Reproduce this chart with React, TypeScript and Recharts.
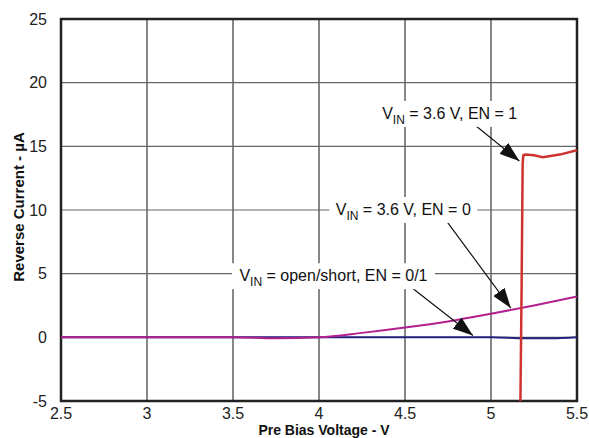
import React from 'react';
import {
  LineChart,
  Line,
  XAxis,
  YAxis,
  CartesianGrid,
  ReferenceLine,
  ReferenceDot,
  ReferenceArea,
} from 'recharts';

// axis ticks
const xTicks = [2.5, 3, 3.5, 4, 4.5, 5, 5.5];
const yTicks = [-5, 0, 5, 10, 15, 20, 25];

// VIN = open/short, EN = 0/1 (navy)
const navyX = [2.5, 3.5, 4.0, 4.5, 5.0, 5.2, 5.35, 5.5];
const navyY = [0, 0, 0, 0, 0, -0.08, -0.08, 0];

// VIN = 3.6 V, EN = 0 (magenta)
const magentaX = [2.5, 3.0, 3.5, 3.75, 4.0, 4.25, 4.5, 4.75, 5.0, 5.25, 5.5];
const magentaY = [0, 0, 0, -0.08, 0, 0.35, 0.77, 1.25, 1.85, 2.5, 3.2];

// VIN = 3.6 V, EN = 1 (red)
const redX = [5.171, 5.178, 5.184, 5.188, 5.2, 5.25, 5.3, 5.4, 5.5];
const redY = [-5, 4, 13.6, 14.3, 14.35, 14.3, 14.15, 14.35, 14.7];

const zip = (xs: number[], ys: number[]) => xs.map((x, i) => ({ x, y: ys[i] }));
const navyData = zip(navyX, navyY);
const magentaData = zip(magentaX, magentaY);
const redData = zip(redX, redY);

// annotation labels: centre (x, y) in data units, box width in px
const notes = [
  { x: 4.76, y: 17.55, w: 150, rest: ' = 3.6 V, EN = 1' },
  { x: 4.49, y: 10.0, w: 148, rest: ' = 3.6 V, EN = 0' },
  { x: 4.084, y: 4.8, w: 203, rest: ' = open/short, EN = 0/1' },
];

// arrows: tail -> tip in data units
const arrows = [
  { x1: 4.89, y1: 16.85, x2: 5.165, y2: 13.85 },
  { x1: 4.715, y1: 9.62, x2: 5.115, y2: 2.3 },
  { x1: 4.54, y1: 3.89, x2: 4.895, y2: 0.15 },
];

const FONT = '"Liberation Sans", Arial, sans-serif';

const NoteLabel = ({ viewBox, w, rest }: any) => {
  const cx = viewBox.x + viewBox.width / 2;
  const cy = viewBox.y + viewBox.height / 2;
  return (
    <g>
      <rect x={cx - w / 2} y={cy - 13} width={w} height={26} fill="#fff" />
      <text
        x={cx}
        y={cy + 5}
        textAnchor="middle"
        fontFamily={FONT}
        fontSize={16}
        fill="#111"
      >
        V
        <tspan dy={5} fontSize={12}>IN</tspan>
        <tspan dy={-5}>{rest}</tspan>
      </text>
    </g>
  );
};

export default function App() {
  return (
    <div style={{ position: 'absolute', left: 0, top: 0, background: '#fff' }}>
      <LineChart
        width={589}
        height={438}
        margin={{ top: 19, right: 12, bottom: 0, left: 0 }}
      >
        <defs>
          <marker
            id="arrowHead"
            viewBox="0 0 20 14"
            refX={20}
            refY={7}
            markerWidth={20}
            markerHeight={14}
            markerUnits="userSpaceOnUse"
            orient="auto"
          >
            <path d="M0,0 L20,7 L0,14 Z" fill="#111" />
          </marker>
        </defs>
        <CartesianGrid horizontal={false} stroke="#111" strokeWidth={1} />
        <CartesianGrid vertical={false} stroke="#666" strokeWidth={1.2} />
        <XAxis
          type="number"
          dataKey="x"
          domain={[2.5, 5.5]}
          ticks={xTicks}
          allowDataOverflow
          height={37}
          tickLine={false}
          axisLine={false}
          tick={{ fontSize: 16, fill: '#222', fontFamily: FONT }}
          tickMargin={1}
          label={{
            content: ({ viewBox }: any) => (
              <text
                x={viewBox.x + viewBox.width / 2 + 5}
                y={viewBox.y + 34}
                textAnchor="middle"
                fontFamily={FONT}
                fontWeight="bold"
                fontSize={14}
                fill="#111"
              >
                Pre Bias Voltage - V
              </text>
            ),
          }}
        />
        <YAxis
          type="number"
          domain={[-5, 25]}
          ticks={yTicks}
          allowDataOverflow
          width={61}
          tickLine={false}
          axisLine={false}
          tick={{ fontSize: 16, fill: '#222', fontFamily: FONT }}
          tickMargin={8}
          label={{
            content: ({ viewBox }: any) => {
              const lx = 24;
              const ly = viewBox.y + viewBox.height / 2 - 3;
              return (
                <text
                  x={lx}
                  y={ly}
                  textAnchor="middle"
                  transform={`rotate(-90, ${lx}, ${ly})`}
                  fontFamily={FONT}
                  fontWeight="bold"
                  fontSize={15}
                  fill="#111"
                >
                  Reverse Current - µA
                </text>
              );
            },
          }}
        />
        {notes.map((n, i) => (
          <ReferenceDot
            key={'n' + i}
            x={n.x}
            y={n.y}
            r={0}
            fill="none"
            stroke="none"
            label={{ content: (p: any) => <NoteLabel {...p} w={n.w} rest={n.rest} /> }}
          />
        ))}
        <Line
          data={navyData}
          dataKey="y"
          type="monotone"
          stroke="#23237f"
          strokeWidth={2}
          dot={false}
          isAnimationActive={false}
        />
        <Line
          data={magentaData}
          dataKey="y"
          type="monotone"
          stroke="#b3208f"
          strokeWidth={2}
          dot={false}
          isAnimationActive={false}
        />
        <Line
          data={redData}
          dataKey="y"
          type="linear"
          stroke="#d0322f"
          strokeWidth={2.5}
          dot={false}
          isAnimationActive={false}
        />
        {arrows.map((a, i) => (
          <ReferenceLine
            key={'a' + i}
            segment={[
              { x: a.x1, y: a.y1 },
              { x: a.x2, y: a.y2 },
            ]}
            stroke="#111"
            strokeWidth={1.2}
            markerEnd="url(#arrowHead)"
          />
        ))}
        <ReferenceArea
          x1={2.5}
          x2={5.5}
          y1={-5}
          y2={25}
          fill="none"
          fillOpacity={0}
          stroke="#222"
          strokeWidth={2.5}
        />
      </LineChart>
    </div>
  );
}
